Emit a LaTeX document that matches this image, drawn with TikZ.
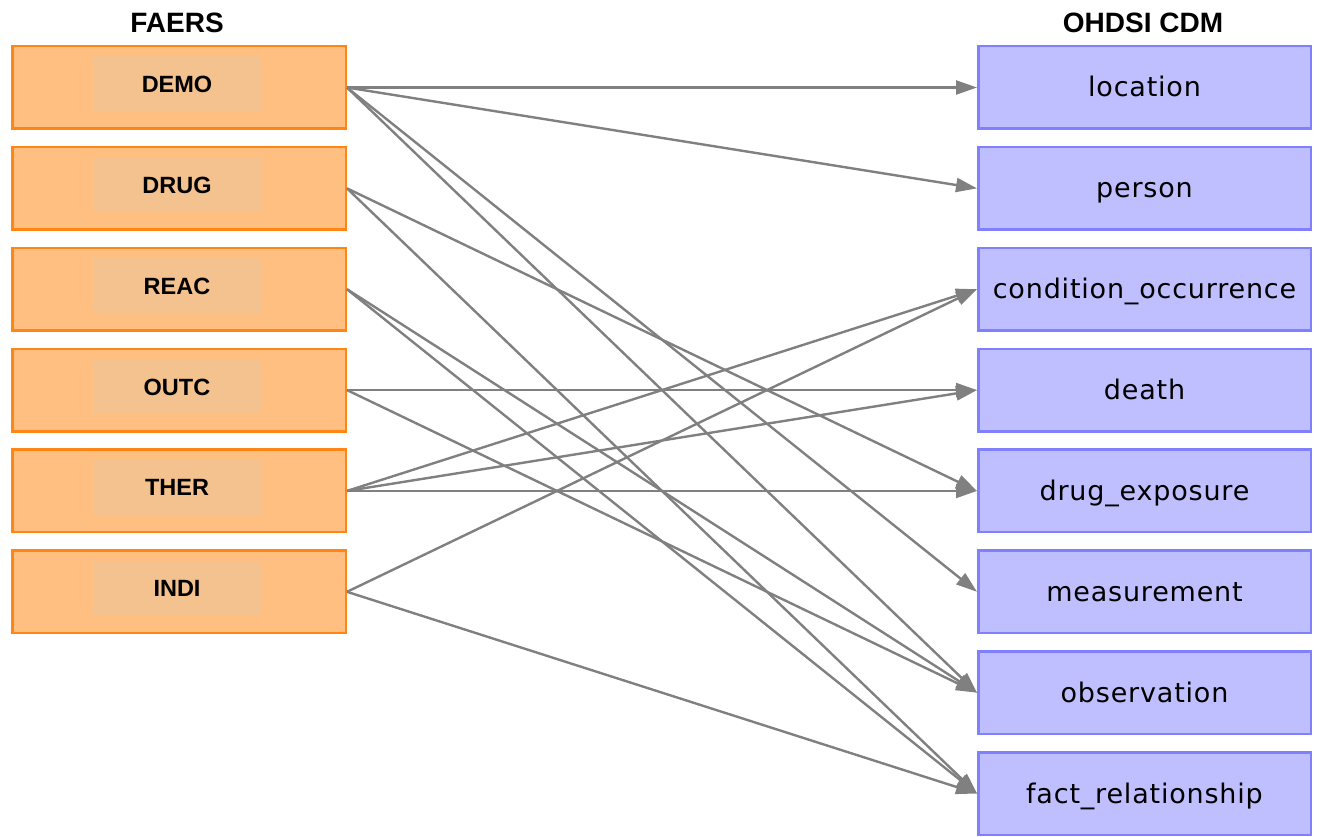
\documentclass[tikz,border=0pt]{standalone}
\usepackage{fontspec}
\setmainfont{Liberation Sans}
\newfontfamily\cdmfont[LetterSpace=3]{DejaVu Sans}
\usetikzlibrary{arrows.meta}
\definecolor{srcfill}{HTML}{FFBF80}
\definecolor{srcinner}{HTML}{F4C28E}
\definecolor{srcline}{HTML}{FF8514}
\definecolor{dstfill}{HTML}{BFBFFF}
\definecolor{dstline}{HTML}{8080FF}
\definecolor{edgegray}{HTML}{808080}
\tikzset{
  srcbox/.style={draw=srcline, fill=srcfill, line width=2.5pt, minimum width=333.5pt, minimum height=82.5pt, inner sep=0pt},
  srclabel/.style={fill=srcinner, minimum width=168pt, minimum height=55pt, inner sep=0pt, text height=17pt, text depth=0pt, font=\fontsize{23.5}{28}\selectfont\bfseries},
  dstbox/.style={draw=dstline, fill=dstfill, line width=2.5pt, minimum width=332.5pt, minimum height=82.5pt, inner sep=0pt, text height=19pt, text depth=0pt, font=\fontsize{27}{32}\cdmfont},
  title/.style={font=\fontsize{28}{32}\selectfont\bfseries, inner sep=0pt},
  link/.style={draw=edgegray, line width=2.4pt, -{Triangle[length=21pt,width=14pt]}}
}
\begin{document}
\begin{tikzpicture}[x=1pt,y=-1pt]
\useasboundingbox (0,0) rectangle (1323,837);
\node[title] (t1) at (177,23) {FAERS};
\node[title] (t2) at (1143,23) {OHDSI CDM};
% source boxes
\foreach \n/\t [count=\i from 0] in {demo/DEMO,drug/DRUG,reac/REAC,outc/OUTC,ther/THER,indi/INDI}{
  \node[srcbox] (\n) at (179,87.5+100.86*\i) {};
  \node[srclabel] (\n-t) at (177,84+100.86*\i) {\t};
}
% target boxes
\foreach \n/\t [count=\i from 0] in {loc/location,per/person,cond/condition\_occurrence,death/death,dexp/drug\_exposure,meas/measurement,obs/observation,fact/fact\_relationship}{
  \node[dstbox] (\n) at (1144.5,87.5+100.86*\i) {\t};
}
% connectors
\foreach \a/\b in {demo/loc,demo/per,demo/meas,demo/obs,drug/dexp,drug/fact,reac/obs,reac/fact,outc/death,outc/obs,ther/cond,ther/death,ther/dexp,indi/cond,indi/fact}{
  \draw[link] (\a.east) -- (\b.west);
}
\end{tikzpicture}
\end{document}
